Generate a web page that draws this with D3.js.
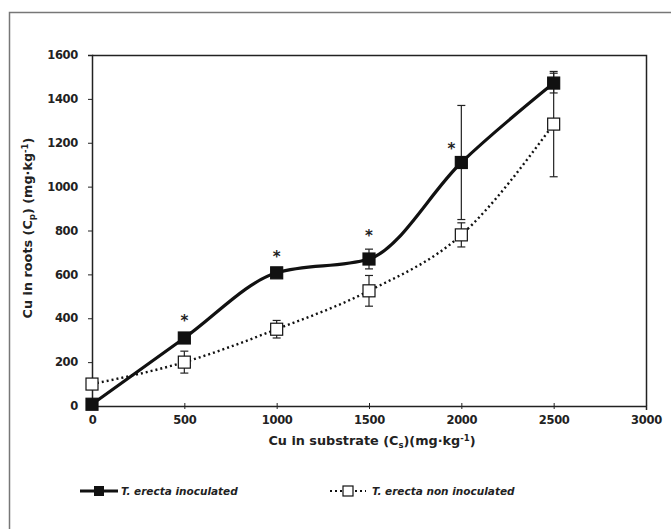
<!DOCTYPE html>
<html lang="en">
<head>
    <meta charset="UTF-8">
    <title>Cu in roots</title>
    <script src="https://d3js.org/d3.v7.min.js"></script>
    <style>
        body { margin: 0; background: #fff; }
        svg text { font-family: "DejaVu Sans", sans-serif; font-weight: bold; fill: #222; }
    </style>
</head>
<body>
<svg width="671" height="529"></svg>
<script>
    // data
    var substrate = [0, 500, 1000, 1500, 2000, 2500];
    var inoculated = [8, 310, 607, 670, 1110, 1472];
    var inoculatedErr = [0, 20, 15, 45, 260, 45];
    var nonInoculated = [100, 200, 350, 525, 780, 1285];
    var nonInoculatedErr = [0, 50, 40, 70, 55, 240];
    var significant = [false, true, true, true, true, false];
    var xTicks = [0, 500, 1000, 1500, 2000, 2500, 3000];
    var yTicks = [0, 200, 400, 600, 800, 1000, 1200, 1400, 1600];

    var svg = d3.select('svg');
    var mLeft = 92, mRight = 646, mTop = 55, mBottom = 406;

    // outer frame
    svg.append('path')
        .attr('d', 'M9.5,540V12.5H680')
        .attr('fill', 'none')
        .attr('stroke', '#777')
        .attr('stroke-width', 1.5);

    var x = d3.scaleLinear().domain([0, 3000]).range([mLeft, mRight]);
    var y = d3.scaleLinear().domain([0, 1600]).range([mBottom, mTop]);

    // plot box top/right
    svg.append('path')
        .attr('d', 'M' + mLeft + ',' + (mTop + 0.5) + 'H' + (mRight + 0.5) + 'V' + mBottom)
        .attr('fill', 'none')
        .attr('stroke', '#222')
        .attr('stroke-width', 1.5);

    var yAxis = svg.append('g')
        .attr('transform', 'translate(' + mLeft + ',0)')
        .call(d3.axisLeft(y).tickValues(yTicks).tickFormat(d3.format('d')).tickSize(4).tickPadding(10));
    var xAxis = svg.append('g')
        .attr('transform', 'translate(0,' + mBottom + ')')
        .call(d3.axisBottom(x).tickValues(xTicks).tickFormat(d3.format('d')).tickSize(4).tickPadding(6));
    [xAxis, yAxis].forEach(function(a) {
        a.select('.domain').attr('stroke', '#222').attr('stroke-width', 1.5);
        a.selectAll('.tick line').attr('stroke', '#222');
        a.selectAll('text').attr('font-size', 11.5).attr('fill', '#222')
            .style('font-family', '"DejaVu Sans", sans-serif').style('font-weight', 'bold')
            .attr('letter-spacing', -0.3);
    });
    xAxis.selectAll('.tick line').attr('y1', -3).attr('y2', 3);

    // axis titles
    var yt = svg.append('text')
        .attr('transform', 'translate(32,228) rotate(-90)')
        .attr('text-anchor', 'middle')
        .attr('font-size', 12.8);
    yt.append('tspan').text('Cu in roots (C');
    yt.append('tspan').attr('font-size', 8.5).attr('dy', 3).text('p');
    yt.append('tspan').attr('dy', -3).text(') (mg·kg');
    yt.append('tspan').attr('font-size', 8.5).attr('dy', -4).text('-1');
    yt.append('tspan').attr('dy', 4).text(')');

    var xt = svg.append('text')
        .attr('x', 372).attr('y', 445)
        .attr('text-anchor', 'middle')
        .attr('font-size', 12.8);
    xt.append('tspan').text('Cu in substrate (C');
    xt.append('tspan').attr('font-size', 8.5).attr('dy', 3).text('s');
    xt.append('tspan').attr('dy', -3).text(')(mg·kg');
    xt.append('tspan').attr('font-size', 8.5).attr('dy', -4).text('-1');
    xt.append('tspan').attr('dy', 4).text(')');

    var series = [
        { name: 'T. erecta inoculated', values: inoculated, err: inoculatedErr, dash: null, fill: '#111' },
        { name: 'T. erecta non inoculated', values: nonInoculated, err: nonInoculatedErr, dash: '2,3', fill: '#fff' }
    ];

    var line = d3.line()
        .x(function(d) { return x(d[0]); })
        .y(function(d) { return y(d[1]); })
        .curve(d3.curveMonotoneX);

    // error bars
    series.forEach(function(s) {
        var g = svg.append('g').attr('stroke', '#222').attr('stroke-width', 1.2);
        substrate.forEach(function(v, i) {
            if (!s.err[i]) return;
            var cx = x(v), lo = y(s.values[i] - s.err[i]), hi = y(s.values[i] + s.err[i]);
            g.append('line').attr('x1', cx).attr('x2', cx).attr('y1', lo).attr('y2', hi);
            g.append('line').attr('x1', cx - 4).attr('x2', cx + 4).attr('y1', lo).attr('y2', lo);
            g.append('line').attr('x1', cx - 4).attr('x2', cx + 4).attr('y1', hi).attr('y2', hi);
        });
    });

    // lines (non inoculated first so the solid line is on top)
    series.slice().reverse().forEach(function(s) {
        svg.append('path')
            .datum(substrate.map(function(v, i) { return [v, s.values[i]]; }))
            .attr('d', line)
            .attr('fill', 'none')
            .attr('stroke', '#111')
            .attr('stroke-width', s.dash ? 2.4 : 3.2)
            .attr('stroke-dasharray', s.dash);
    });

    // markers
    series.slice().reverse().forEach(function(s) {
        svg.append('g').selectAll('rect')
            .data(substrate)
            .join('rect')
            .attr('x', function(d) { return x(d) - 6; })
            .attr('y', function(d, i) { return y(s.values[i]) - 6; })
            .attr('width', 12)
            .attr('height', 12)
            .attr('fill', s.fill)
            .attr('stroke', '#111')
            .attr('stroke-width', 1.2);
    });

    // significance stars
    svg.append('g').selectAll('text')
        .data(substrate.filter(function(d, i) { return significant[i]; }))
        .join('text')
        .attr('x', function(d) { return x(d) - (d === 2000 ? 10 : 0); })
        .attr('y', function(d) {
            var i = substrate.indexOf(d);
            return d === 2000 ? y(inoculated[i]) - 8 : y(inoculated[i] + inoculatedErr[i]) - 8;
        })
        .attr('text-anchor', 'middle')
        .attr('font-size', 15)
        .text('*');

    // legend
    var lg = svg.append('g');
    lg.append('line').attr('x1', 80).attr('x2', 118).attr('y1', 491).attr('y2', 491)
        .attr('stroke', '#111').attr('stroke-width', 3);
    lg.append('rect').attr('x', 94).attr('y', 486).attr('width', 10).attr('height', 10).attr('fill', '#111');
    lg.append('text').attr('x', 121).attr('y', 495).attr('font-size', 10.5)
        .style('font-style', 'italic').text(series[0].name);

    lg.append('line').attr('x1', 330).attr('x2', 366).attr('y1', 491).attr('y2', 491)
        .attr('stroke', '#111').attr('stroke-width', 2.2).attr('stroke-dasharray', '2,3');
    lg.append('rect').attr('x', 343).attr('y', 486).attr('width', 10).attr('height', 10)
        .attr('fill', '#fff').attr('stroke', '#111').attr('stroke-width', 1.2);
    lg.append('text').attr('x', 372).attr('y', 495).attr('font-size', 10.5)
        .style('font-style', 'italic').text(series[1].name);
</script>
</body>
</html>
